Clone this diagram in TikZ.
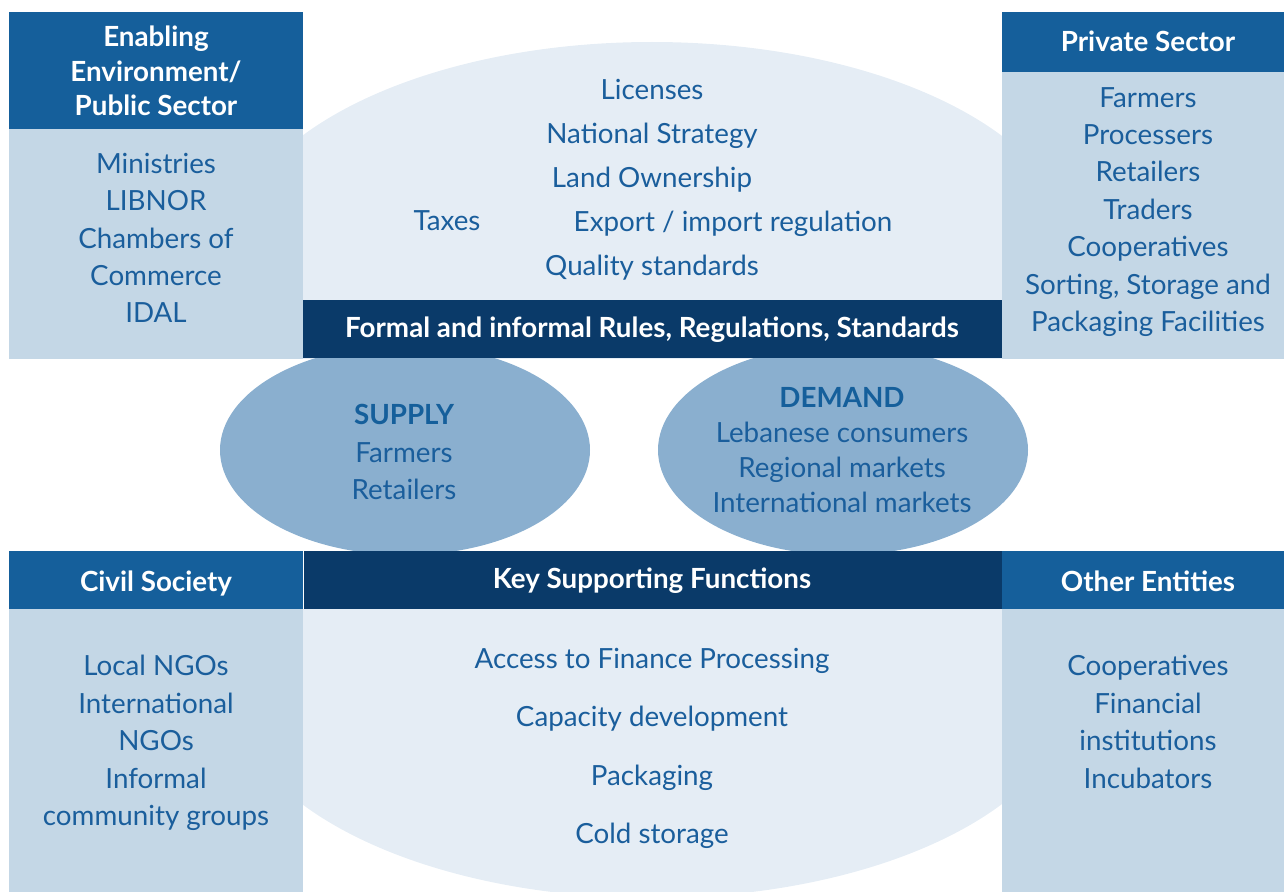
\documentclass[tikz,border=0pt]{standalone}
\usepackage{fontspec}
\setmainfont{Lato}
\usetikzlibrary{positioning}
\definecolor{headblue}{HTML}{155F9B}
\definecolor{bodyblue}{HTML}{C4D7E6}
\definecolor{paleblue}{HTML}{E5EDF5}
\definecolor{bandblue}{HTML}{0A3A69}
\definecolor{ovalblue}{HTML}{8AAFCF}
\definecolor{itemblue}{HTML}{1A5E9C}

\begin{document}
\begin{tikzpicture}[x=0.02cm,y=-0.02cm,
		head text/.style={text=white,align=center,font=\fontsize{15.8}{19.6}\selectfont\bfseries},
		list text/.style={text=itemblue,align=center,font=\fontsize{15.8}{21.3}\selectfont},
		oval title/.style={text=headblue,font=\fontsize{15.8}{20}\selectfont\bfseries}]

		\useasboundingbox (0,0) rectangle (1284,892);

		% pale ovals, cut off at the bands
		\begin{scope}
			\clip (303,0) rectangle (1002,358);
			\fill[paleblue] (652,255) ellipse [x radius=422, y radius=213];
		\end{scope}
		\begin{scope}
			\clip (303,609) rectangle (1002,892);
			\fill[paleblue] (652,685) ellipse [x radius=422, y radius=213];
		\end{scope}

		% supply and demand
		\fill[ovalblue] (405,450) ellipse [x radius=185, y radius=105];
		\fill[ovalblue] (843,450) ellipse [x radius=185, y radius=105];

		% corner boxes
		\fill[headblue] (9,12) rectangle (303,129);
		\fill[bodyblue] (9,129) rectangle (303,359);
		\fill[headblue] (1002,12) rectangle (1284,72);
		\fill[bodyblue] (1002,72) rectangle (1284,359);
		\fill[headblue] (9,551) rectangle (303,609);
		\fill[bodyblue] (9,609) rectangle (303,892);
		\fill[headblue] (1002,551) rectangle (1284,609);
		\fill[bodyblue] (1002,609) rectangle (1284,892);

		% bands
		\fill[bandblue] (303,300) rectangle (1002,358);
		\fill[bandblue] (304,551) rectangle (1002,609);

		% headers
		\node[head text] (public) at (156,71) {Enabling\\Environment/\\Public Sector};
		\node[head text] (private) at (1148,41) {Private Sector};
		\node[head text] (civil) at (156,584) {Civil Society};
		\node[head text] (other) at (1148,581) {Other Entities};
		\node[head text] (rules) at (652,330) {Formal and informal Rules, Regulations, Standards};
		\node[head text] (key) at (652,581) {Key Supporting Functions};

		% lists
		\node[list text] (publiclist) at (156,238) {Ministries\\LIBNOR\\Chambers of\\Commerce\\IDAL};
		\node[list text] (privatelist) at (1148,212) {Farmers\\Processers\\Retailers\\Traders\\Cooperatives\\Sorting, Storage and\\Packaging Facilities};
		\node[list text] (civillist) at (156,743) {Local NGOs\\International\\NGOs\\Informal\\community groups};
		\node[list text] (otherlist) at (1148,722) {Cooperatives\\Financial\\institutions\\Incubators};

		% rules oval
		\node[list text] (licenses) at (652,89) {Licenses};
		\node[list text] (strategy) at (652,136) {National Strategy};
		\node[list text] (land) at (652,180) {Land Ownership};
		\node[list text] (taxes) at (447,221) {Taxes};
		\node[list text] (export) at (733,224) {Export / import regulation};
		\node[list text] (quality) at (652,268) {Quality standards};

		% supply / demand
		\node[oval title] (supply) at (404,414) {SUPPLY};
		\node[list text,below=3.4pt of supply,font=\fontsize{15.8}{21.1}\selectfont] (supplylist) {Farmers\\Retailers};
		\node[oval title] (demand) at (842,397) {DEMAND};
		\node[list text,below=1.7pt of demand,font=\fontsize{15.8}{19.8}\selectfont] (demandlist) {Lebanese consumers\\Regional markets\\International markets};

		% supporting functions
		\node[list text] (finance) at (652,661) {Access to Finance Processing};
		\node[list text] (capacity) at (652,719) {Capacity development};
		\node[list text] (packaging) at (652,778) {Packaging};
		\node[list text] (cold) at (652,836) {Cold storage};
	\end{tikzpicture}
\end{document}
